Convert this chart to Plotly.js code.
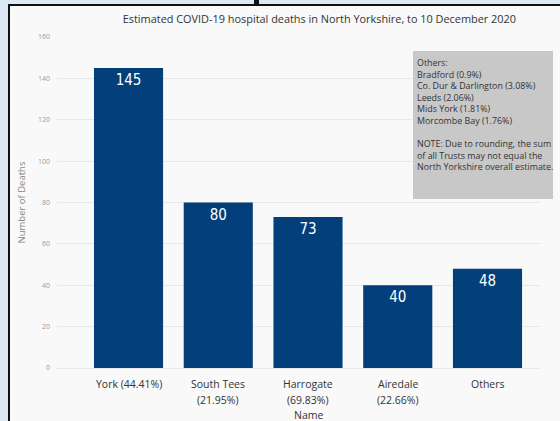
<!DOCTYPE html>
<html>
<head>
<meta charset="utf-8">
<script src="https://cdn.plot.ly/plotly-3.0.1.min.js"></script>
<style>
  html, body { margin: 0; padding: 0; width: 560px; height: 421px; overflow: hidden; background: #dde8f5; }
  #panel { position: absolute; left: 8px; top: 4px; width: 560px; height: 430px; background: #f9f9f9; border-left: 2px solid #111; border-top: 2px solid #111; }
  #tab { position: absolute; left: 254px; top: 0; width: 5px; height: 5px; background: #111; }
  #chart { position: absolute; left: 0; top: 0; width: 560px; height: 421px; }
</style>
</head>
<body>
<div id="panel"></div>
<div id="tab"></div>
<div id="chart"></div>
<script>
const categories = ["York (44.41%)", "South Tees (21.95%)", "Harrogate (69.83%)", "Airedale (22.66%)", "Others"];
const labelLine1 = ["York (44.41%)", "South Tees", "Harrogate", "Airedale", "Others"];
const labelLine2 = ["", "(21.95%)", "(69.83%)", "(22.66%)", ""];
const deaths = [145, 80, 73, 40, 48];
const yTicks = [0, 20, 40, 60, 80, 100, 120, 140, 160];
const othersNote = [
  "Others:",
  "Bradford (0.9%)",
  "Co. Dur & Darlington (3.08%)",
  "Leeds (2.06%)",
  "Mids York (1.81%)",
  "Morcombe Bay (1.76%)",
  "",
  "NOTE: Due to rounding, the sum",
  "of all Trusts may not equal the",
  "North Yorkshire overall estimate."
];
const titleText = "Estimated COVID-19 hospital deaths in North Yorkshire, to 10 December 2020";

const FONT = "Open Sans, Noto Sans, sans-serif";
const PLOT_L = 57, PLOT_W = 483, PLOT_TOP = 37, PLOT_H = 331;
const py = p => (PLOT_TOP + PLOT_H - p) / PLOT_H;
const px = p => (p - PLOT_L) / PLOT_W;

const trace = {
  type: "bar",
  x: categories,
  y: deaths,
  marker: { color: "#023f7b" },
  text: deaths.map(String),
  textposition: "inside",
  insidetextanchor: "end",
  textangle: 0,
  textfont: { family: "DejaVu Sans Condensed, Roboto, sans-serif", size: 15, color: "#ffffff" },
  hoverinfo: "none"
};

const annotations = [];
categories.forEach((c, i) => {
  annotations.push({
    xref: "x", yref: "paper", x: c, y: py(384), yanchor: "middle", xanchor: "center",
    text: labelLine1[i], showarrow: false,
    font: { family: FONT, size: 10.5, color: "#333" }
  });
  if (labelLine2[i]) {
    annotations.push({
      xref: "x", yref: "paper", x: c, y: py(399.5), yanchor: "middle", xanchor: "center",
      text: labelLine2[i], showarrow: false,
      font: { family: FONT, size: 10.5, color: "#333" }
    });
  }
});
annotations.push({
  xref: "x", yref: "paper", x: categories[2], y: py(415), yanchor: "middle", xanchor: "center",
  text: "Name", showarrow: false,
  font: { family: FONT, size: 10.5, color: "#333" }
});
annotations.push({
  xref: "paper", yref: "paper",
  x: px(415), y: py(54),
  xanchor: "left", yanchor: "top",
  text: othersNote.join("<br>"),
  align: "left",
  showarrow: false,
  font: { family: FONT, size: 8.9, color: "#333" }
});

const layout = {
  width: 560,
  height: 421,
  margin: { l: 57, r: 20, t: 37, b: 53 },
  paper_bgcolor: "rgba(0,0,0,0)",
  plot_bgcolor: "rgba(0,0,0,0)",
  bargap: 0.23,
  showlegend: false,
  font: { family: FONT, color: "#333" },
  title: {
    text: titleText,
    font: { family: FONT, size: 10.9, color: "#333" },
    x: px(516), xanchor: "right", xref: "paper",
    y: 1 - 19 / 421, yanchor: "middle"
  },
  xaxis: {
    type: "category",
    range: [-0.797, 4.585],
    showgrid: false,
    zeroline: false,
    showline: false,
    ticks: "",
    showticklabels: false,
    automargin: false
  },
  yaxis: {
    range: [0, 160],
    tickvals: yTicks,
    ticktext: yTicks.map(String),
    showgrid: true,
    gridcolor: "#e8e8e8",
    gridwidth: 1,
    zeroline: true,
    zerolinecolor: "#e8e8e8",
    zerolinewidth: 1,
    showline: false,
    ticks: "",
    ticklabelstandoff: 6,
    tickfont: { family: FONT, size: 7, color: "#999" },
    title: { text: "Number of Deaths", font: { family: FONT, size: 9.5, color: "#888" }, standoff: 10 },
    automargin: false
  },
  shapes: [{
    type: "rect", xref: "paper", yref: "paper", layer: "above",
    x0: px(413), x1: px(553), y0: py(199), y1: py(51),
    fillcolor: "#c8c8c8", line: { width: 0 }
  }],
  annotations: annotations
};

Plotly.newPlot("chart", [trace], layout, { displayModeBar: false, staticPlot: true });
</script>
</body>
</html>
